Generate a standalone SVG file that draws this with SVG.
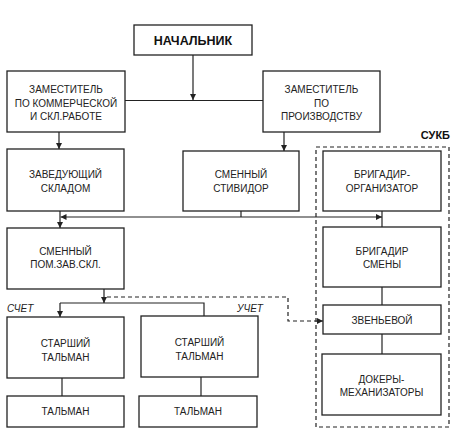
<svg xmlns="http://www.w3.org/2000/svg" width="461" height="446" viewBox="0 0 461 446">
<style>
.box{fill:#fff;stroke:#222;stroke-width:1.3}
.t{font-family:"Liberation Sans",Arial,sans-serif;font-size:10px;fill:#222;text-anchor:middle}
.b{font-family:"Liberation Sans",Arial,sans-serif;font-weight:bold;fill:#111}
.i{font-family:"Liberation Sans",Arial,sans-serif;font-style:italic;font-size:10px;fill:#222}
.ln{fill:none;stroke:#222;stroke-width:1.2}
.dash{fill:none;stroke:#222;stroke-width:1.2;stroke-dasharray:4,3}
</style>
<defs>
<marker id="ar" viewBox="0 0 10 10" refX="10" refY="5" markerWidth="6" markerHeight="6" markerUnits="userSpaceOnUse" orient="auto">
<path d="M0,0 L10,5 L0,10 z" fill="#222"/>
</marker>
</defs>
<rect width="461" height="446" fill="#fff"/>
<g id="sukb">
<rect x="316" y="147" width="133" height="280" class="dash"/>
<text x="450" y="139" class="b" font-size="11" text-anchor="end">СУКБ</text>
</g>
<g id="connectors">
<path class="ln" d="M193,55 V100" marker-end="url(#ar)"/>
<path class="ln" d="M125,100.5 H263"/>
<path class="ln" d="M59,132 V149" marker-end="url(#ar)"/>
<path class="ln" d="M284,132 V151" marker-end="url(#ar)"/>
<path class="ln" d="M60,211 V228" marker-end="url(#ar)"/>
<path class="ln" d="M241,217 H60.5" marker-end="url(#ar)"/>
<path class="ln" d="M241,217 H382" marker-end="url(#ar)"/>
<path class="ln" d="M241,211 V217"/>
<path class="ln" d="M382,211 V227"/>
<path class="ln" d="M382,287 V305"/>
<path class="ln" d="M382,334 V354"/>
<path class="ln" d="M104,289 V303" marker-end="url(#ar)"/>
<path class="ln" d="M60,303 H204 V316"/>
<path class="ln" d="M60,303 V317" marker-end="url(#ar)"/>
<path class="dash" d="M107,297 H288 V321 H323" marker-end="url(#ar)"/>
<path class="ln" d="M62,378 V396"/>
<path class="ln" d="M201,377 V396"/>
</g>
<g id="nachalnik">
<rect x="134" y="25" width="118" height="30" class="box"/>
<text x="193" y="45" class="b" font-size="12.5" text-anchor="middle">НАЧАЛЬНИК</text>
</g>
<g id="zam-komm">
<rect x="7" y="71" width="118" height="61" class="box"/>
<text class="t" x="66" y="93">ЗАМЕСТИТЕЛЬ</text>
<text class="t" x="66" y="106.5">ПО КОММЕРЧЕСКОЙ</text>
<text class="t" x="66" y="120">И СКЛ.РАБОТЕ</text>
</g>
<g id="zam-proizv">
<rect x="263" y="71" width="117" height="61" class="box"/>
<text class="t" x="321.5" y="93">ЗАМЕСТИТЕЛЬ</text>
<text class="t" x="321.5" y="106.5">ПО</text>
<text class="t" x="321.5" y="120">ПРОИЗВОДСТВУ</text>
</g>
<g id="zav-sklad">
<rect x="7" y="149" width="117" height="62" class="box"/>
<text class="t" x="65.5" y="178">ЗАВЕДУЮЩИЙ</text>
<text class="t" x="65.5" y="192">СКЛАДОМ</text>
</g>
<g id="stividor">
<rect x="183" y="151" width="116" height="60" class="box"/>
<text class="t" x="241" y="178">СМЕННЫЙ</text>
<text class="t" x="241" y="192">СТИВИДОР</text>
</g>
<g id="brig-org">
<rect x="323" y="151" width="118" height="60" class="box"/>
<text class="t" x="382" y="178">БРИГАДИР-</text>
<text class="t" x="382" y="192">ОРГАНИЗАТОР</text>
</g>
<g id="pom-zav">
<rect x="7" y="228" width="117" height="61" class="box"/>
<text class="t" x="65.5" y="255">СМЕННЫЙ</text>
<text class="t" x="65.5" y="268">ПОМ.ЗАВ.СКЛ.</text>
</g>
<g id="brig-smeny">
<rect x="323" y="227" width="118" height="60" class="box"/>
<text class="t" x="382" y="255">БРИГАДИР</text>
<text class="t" x="382" y="268">СМЕНЫ</text>
</g>
<g id="labels">
<text class="i" x="7" y="312">СЧЕТ</text>
<text class="i" x="237" y="312">УЧЕТ</text>
</g>
<g id="st-talman-1">
<rect x="7" y="317" width="117" height="61" class="box"/>
<text class="t" x="65.5" y="347">СТАРШИЙ</text>
<text class="t" x="65.5" y="361">ТАЛЬМАН</text>
</g>
<g id="st-talman-2">
<rect x="141" y="316" width="117" height="61" class="box"/>
<text class="t" x="199.5" y="346">СТАРШИЙ</text>
<text class="t" x="199.5" y="360">ТАЛЬМАН</text>
</g>
<g id="zvenevoy">
<rect x="323" y="305" width="118" height="29" class="box"/>
<text class="t" x="382" y="323.5">ЗВЕНЬЕВОЙ</text>
</g>
<g id="talman-1">
<rect x="7" y="396" width="117" height="31" class="box"/>
<text class="t" x="65.5" y="415">ТАЛЬМАН</text>
</g>
<g id="talman-2">
<rect x="139" y="396" width="118" height="31" class="box"/>
<text class="t" x="198" y="415">ТАЛЬМАН</text>
</g>
<g id="dokery">
<rect x="322" y="354" width="119" height="61" class="box"/>
<text class="t" x="381.5" y="383">ДОКЕРЫ-</text>
<text class="t" x="381.5" y="396">МЕХАНИЗАТОРЫ</text>
</g>
</svg>
